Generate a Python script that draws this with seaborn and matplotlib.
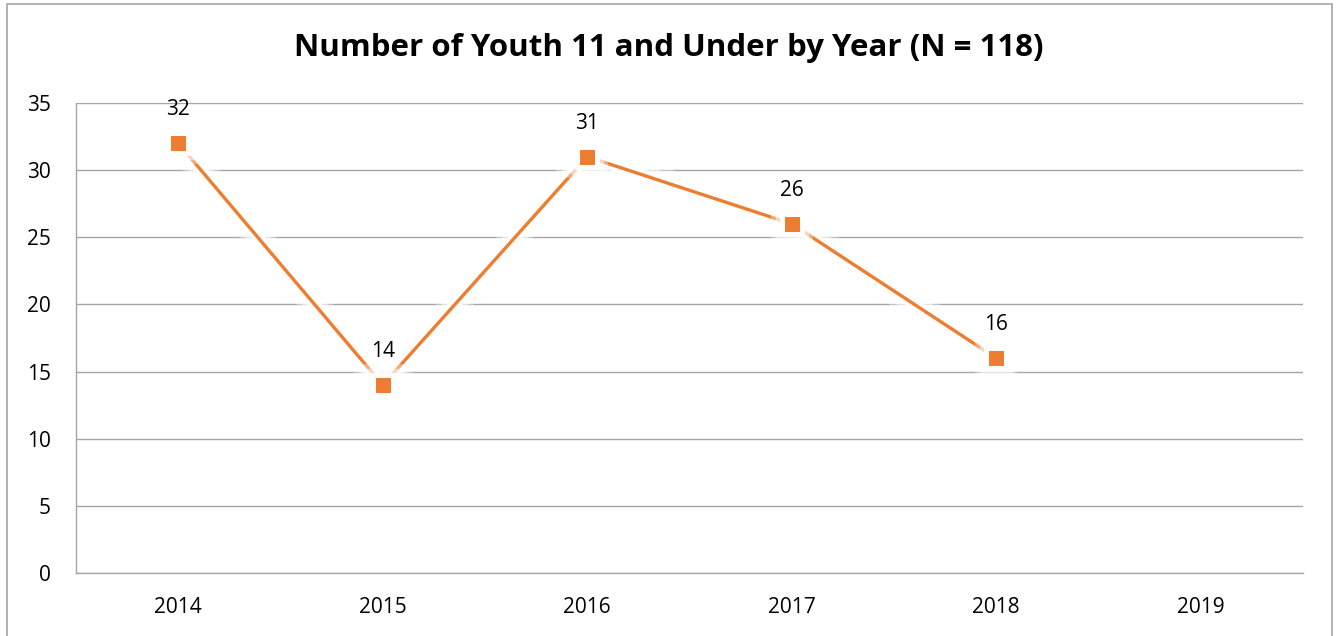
import matplotlib
matplotlib.use("Agg")
import matplotlib.pyplot as plt
import matplotlib.patheffects as pe
from matplotlib.patches import Rectangle
import numpy as np
import pandas as pd
import seaborn as sns

# Data
years = ["2014", "2015", "2016", "2017", "2018", "2019"]
counts = [32, 14, 31, 26, 16]          # 2019 has no value
y_ticks = [0, 5, 10, 15, 20, 25, 30, 35]
title = "Number of Youth 11 and Under by Year (N = 118)"

line_color = "#ED7D31"
grid_color = "#A6A6A6"

sns.set_theme(style="white")
plt.rcParams["font.family"] = ["Open Sans", "DejaVu Sans"]

df = pd.DataFrame({"pos": np.arange(len(counts)), "count": counts})

fig = plt.figure(figsize=(13.38, 6.36), dpi=100)
ax = fig.add_axes([76 / 1338, 1 - 573 / 636, (1303 - 76) / 1338, (573 - 103) / 636])

# soft white glow under the line
glow = [pe.Stroke(linewidth=20, foreground="white", alpha=0.35),
        pe.Stroke(linewidth=14, foreground="white", alpha=0.5),
        pe.Stroke(linewidth=8, foreground="white", alpha=0.9),
        pe.Normal()]

sns.lineplot(data=df, x="pos", y="count", ax=ax, color=line_color, linewidth=2.4,
             marker="s", markersize=10, markeredgecolor=line_color, zorder=3,
             path_effects=glow)

for x, y in zip(df["pos"], df["count"]):
    ax.annotate(str(y), (x, y), xytext=(0, 24), textcoords="offset points",
                ha="center", va="center", fontsize=15, color="black")

ax.set_xlim(-0.5, len(years) - 0.5)
ax.set_ylim(0, 35)
ax.set_xticks(range(len(years)))
ax.set_xticklabels(years)
ax.set_yticks(y_ticks)
ax.tick_params(axis="both", length=0, labelsize=15, colors="black")
ax.tick_params(axis="y", pad=18)
ax.tick_params(axis="x", pad=17)
ax.set_xlabel("")
ax.set_ylabel("")

ax.yaxis.grid(True, color=grid_color, linewidth=1.0)
ax.set_axisbelow(True)
for side in ["top", "right"]:
    ax.spines[side].set_visible(False)
for side in ["left", "bottom"]:
    ax.spines[side].set_color(grid_color)
    ax.spines[side].set_linewidth(1.0)

fig.text(0.5, 1 - 48 / 636, title, ha="center", va="center",
         fontsize=22.5, fontweight="bold", color="black")

# chart border
fig.patches.append(Rectangle((7 / 1338, -0.05), (1332 - 7) / 1338, 1.05 - 4 / 636,
                             transform=fig.transFigure, fill=False,
                             edgecolor="#A6A6A6", linewidth=1.2))

fig.savefig("out.png", dpi=100, facecolor="white")
